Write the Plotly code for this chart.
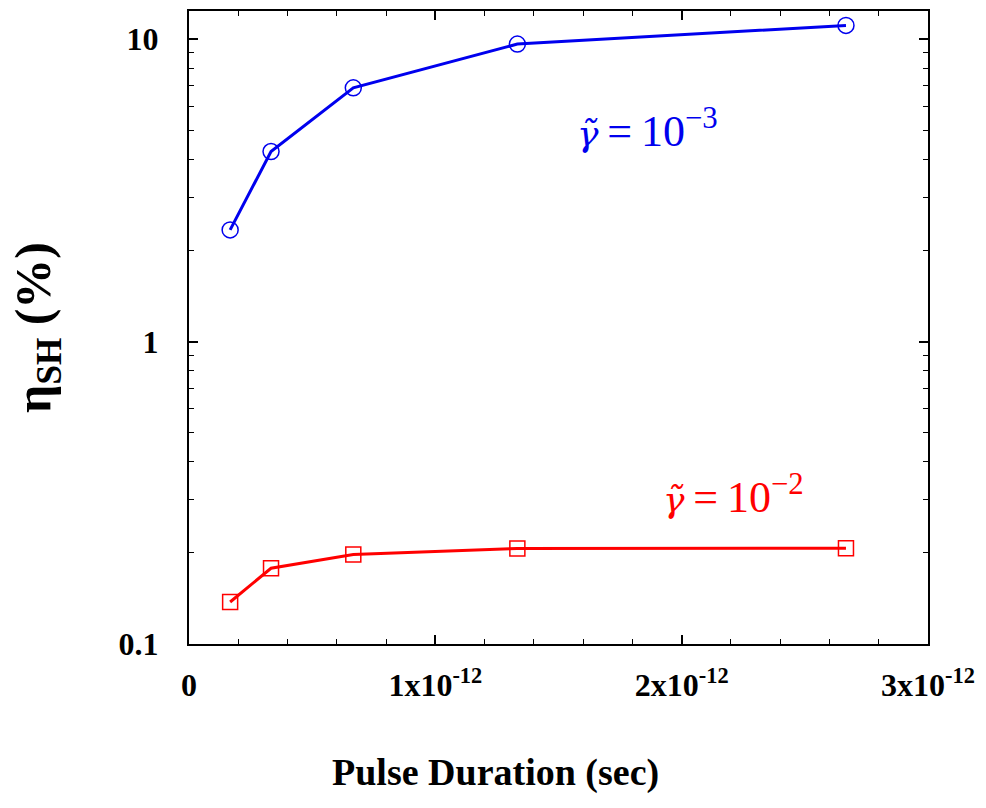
import plotly.graph_objects as go

# Pulse duration (s) and second-harmonic conversion efficiency (%)
pulse_duration = [0.167e-12, 0.333e-12, 0.667e-12, 1.333e-12, 2.667e-12]
eta_gamma_1e3 = [2.34, 4.25, 6.90, 9.63, 11.1]
eta_gamma_1e2 = [0.1377, 0.178, 0.1977, 0.207, 0.2074]

x_tick_vals = [0, 1e-12, 2e-12, 3e-12]
x_tick_text = ["0", "1x10<sup>-12</sup>", "2x10<sup>-12</sup>", "3x10<sup>-12</sup>"]
y_tick_vals = [0.1, 1, 10]
y_tick_text = ["0.1", "1", "10"]

BLUE = "#0000ee"
RED = "#ff0000"
SERIF = "Liberation Serif"

GAMMA = '<span style="font-family:DejaVu Serif;font-size:36px"><i>γ̃</i></span>'

fig = go.Figure()

fig.add_trace(go.Scatter(
    x=pulse_duration, y=eta_gamma_1e3, mode="lines+markers",
    line=dict(color=BLUE, width=3),
    marker=dict(symbol="circle-open", size=16, color=BLUE, line=dict(width=1.5, color=BLUE)),
    showlegend=False,
))
fig.add_trace(go.Scatter(
    x=pulse_duration, y=eta_gamma_1e2, mode="lines+markers",
    line=dict(color=RED, width=3),
    marker=dict(symbol="square-open", size=15, color=RED, line=dict(width=1.5, color=RED)),
    showlegend=False,
))

fig.add_annotation(
    x=1.86e-12, y=0.703, xref="x", yref="y",
    text=GAMMA + "\u2009=\u200910<sup>−3</sup>", showarrow=False,
    font=dict(family=SERIF, size=44, color=BLUE),
)
fig.add_annotation(
    x=2.21e-12, y=-0.507, xref="x", yref="y",
    text=GAMMA + "\u2009=\u200910<sup>−2</sup>", showarrow=False,
    font=dict(family=SERIF, size=44, color=RED),
)

# x-axis title, set slightly left of the axis centre
fig.add_annotation(
    x=0.415, y=-0.203, xref="paper", yref="paper", xanchor="center", yanchor="middle",
    text="<b>Pulse Duration (sec)</b>", showarrow=False,
    font=dict(family=SERIF, size=38, color="black"),
)

axis_common = dict(
    showline=True, linecolor="black", linewidth=2, mirror="allticks",
    ticks="inside", ticklen=9, tickwidth=1.5, tickcolor="black",
    showgrid=False, zeroline=False,
    tickfont=dict(family=SERIF, size=32, color="black"),
)

fig.update_xaxes(
    range=[0, 3e-12], tickmode="array", tickvals=x_tick_vals,
    ticktext=["<b>" + t + "</b>" for t in x_tick_text],
    minor=dict(dtick=0.2e-12, ticks="inside", ticklen=5, tickwidth=1, tickcolor="black", showgrid=False),
    ticklabelstandoff=12,
    **axis_common,
)
fig.update_yaxes(
    type="log", range=[-1, 1.093], tickmode="array", tickvals=y_tick_vals,
    ticktext=["<b>" + t + "</b>" for t in y_tick_text],
    minor=dict(tickvals=[v * d for d in (0.1, 1) for v in range(2, 10)] + [20],
               ticks="inside", ticklen=5, tickwidth=1, tickcolor="black", showgrid=False),
    ticklabelstandoff=22,
    title=dict(text="<b>η<sub>SH</sub> (%)</b>", font=dict(family=SERIF, size=50, color="black"), standoff=52),
    **axis_common,
)

fig.update_layout(
    width=986, height=808,
    margin=dict(l=189, r=58, t=9, b=164),
    plot_bgcolor="white", paper_bgcolor="white",
)

fig.write_html("out.html")
